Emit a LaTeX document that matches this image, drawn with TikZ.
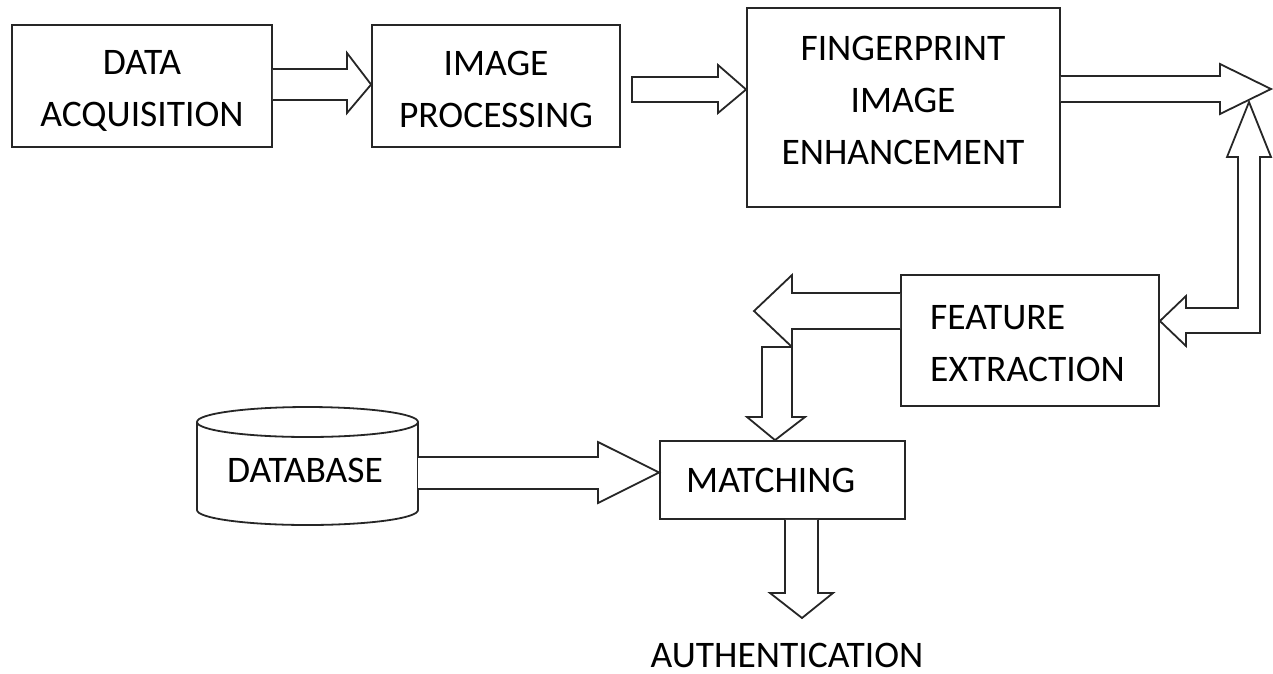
\documentclass[tikz,border=0pt]{standalone}
\usepackage{fontspec}
\setmainfont{Carlito}
\usetikzlibrary{calc}
\begin{document}
\begin{tikzpicture}[x=1pt,y=-1pt,
  box/.style={draw=black!85, line width=1.8pt, fill=white, inner sep=0pt},
  lbl/.style={font=\fontsize{37.5}{52}\selectfont, align=center, inner sep=0pt},
  blk/.style={draw=black!85, line width=1.8pt, fill=white, line join=miter}]
\useasboundingbox (0,0) rectangle (1273,673);

% process blocks
\node[box, minimum width=260pt, minimum height=122pt] (da) at (142,86) {};
\node[lbl] (daText) at (142,91) {DATA\\ACQUISITION};
\node[box, minimum width=248pt, minimum height=122pt] (ip) at (496,86) {};
\node[lbl] (ipText) at (496,89) {IMAGE\\PROCESSING};
\node[box, minimum width=313pt, minimum height=199pt] (fe) at (903.5,107.5) {};
\node[lbl] (feText) at (903,100) {FINGERPRINT\\IMAGE\\ENHANCEMENT};
\node[box, minimum width=258pt, minimum height=131pt] (fx) at (1030,340.5) {};
\node[lbl, align=left, anchor=west] (fxText) at (930,343.5) {FEATURE\\EXTRACTION};
\node[box, minimum width=245pt, minimum height=78pt] (mt) at (782.5,480) {};
\node[lbl, anchor=west] (mtText) at (686,480) {MATCHING};

% database cylinder
\draw[blk] (197,422) -- (197,510) arc[start angle=180, end angle=360, x radius=110.5, y radius=-15] -- (418,422);
\draw[blk] (307.5,422) ellipse[x radius=110.5, y radius=15];
\node[lbl] (db) at (305,470) {DATABASE};

\node[lbl] (au) at (787,655) {AUTHENTICATION};

% block arrows
\draw[blk] (da.east |- 0,69) -- (347,69) -- (347,53) -- (ip.west |- 0,84.5) -- (347,113) -- (347,100) -- (da.east |- 0,100);
\draw[blk] (632,77) -- (718,77) -- (718,65) -- (fe.west |- 0,89.5) -- (718,113) -- (718,102) -- (632,102) -- cycle;
\draw[blk] (fe.east |- 0,76) -- (1220,76) -- (1220,64) -- (1271,89) -- (1220,114) -- (1220,102) -- (fe.east |- 0,102);
\draw[blk] (1249,102) -- (1271,157) -- (1260,157) -- (1260,333) -- (1186,333) -- (1186,346)
  -- (fx.east |- 0,321) -- (1186,296) -- (1186,308) -- (1238,308) -- (1238,157) -- (1227,157) -- cycle;
\draw[blk] (fx.west |- 0,293) -- (792,293) -- (792,275) -- (754,311) -- (792,347) -- (792,329) -- (fx.west |- 0,329);
\draw[blk] (762,347) -- (792,347) -- (792,417) -- (805,417) -- (mt.north -| 775,0) -- (747,417) -- (762,417) -- cycle;
\draw[blk] (418,457) -- (598,457) -- (598,442) -- (mt.west |- 0,472.5) -- (598,503) -- (598,489) -- (418,489);
\draw[blk] (mt.south -| 785,0) -- (785,593) -- (770,593) -- (802,618) -- (833,593) -- (818,593) -- (mt.south -| 818,0);
\end{tikzpicture}
\end{document}
